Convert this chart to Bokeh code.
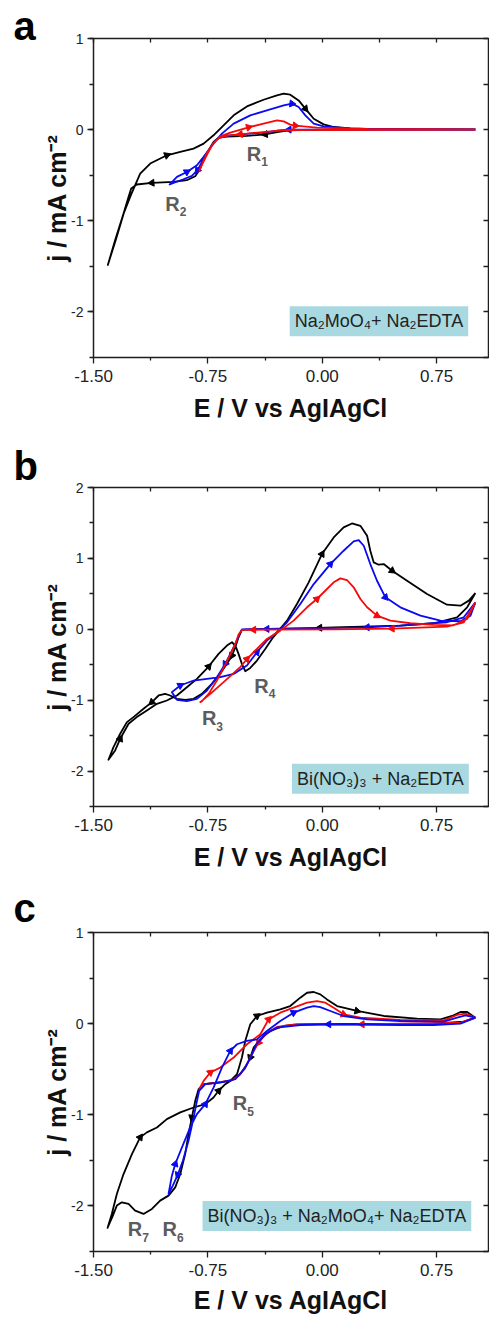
import math
from bokeh.plotting import figure
from bokeh.layouts import column
from bokeh.models import (Range1d, LinearAxis, FixedTicker, SingleIntervalTicker,
                          NumeralTickFormatter, Label, Title)
from bokeh.embed import file_html
from bokeh.resources import INLINE

FONT = "Liberation Sans"

# ---------------- axis ticks ----------------
X_TICKS = [-1.5, -0.75, 0.0, 0.75]
X_MINOR = [-1.125, -0.375, 0.375]
X_LABEL = "E / V vs AgIAgCl"
Y_LABEL = "j / mA cm\u207b\u00b2"

# ---------------- panel a : Na2MoO4 + Na2EDTA ----------------
a_black_E = [1.004, 0.512, 0.075, -0.144, -0.218, -0.297, -0.374, -0.494, -0.625, -0.680,
             -0.713, -0.745, -0.778, -0.804, -0.833, -0.888, -0.975, -1.117, -1.216, -1.253,
             -1.270, -1.303, -1.358, -1.406,
             -1.352, -1.300, -1.255, -1.194, -1.128, -1.019, -0.931, -0.844, -0.778, -0.713,
             -0.647, -0.581, -0.494, -0.385, -0.297, -0.253, -0.210, -0.155, -0.111, -0.056,
             0.009, 0.075, 0.184, 0.294, 0.512, 1.004]
a_black_j = [0.0, 0.0, 0.0, -0.004, -0.007, -0.026, -0.051, -0.069, -0.077, -0.088,
             -0.135, -0.226, -0.336, -0.438, -0.511, -0.555, -0.573, -0.584, -0.602, -0.646,
             -0.737, -0.920, -1.212, -1.485,
             -1.200, -0.910, -0.719, -0.482, -0.372, -0.281, -0.245, -0.208, -0.153, -0.062,
             0.047, 0.157, 0.255, 0.328, 0.376, 0.394, 0.383, 0.321, 0.230, 0.120,
             0.058, 0.029, 0.015, 0.007, 0.004, 0.004]
a_black_arrows = [6, 17, 29, 42]

a_blue_E = [1.004, 0.300, -0.218, -0.297, -0.363, -0.581, -0.669, -0.702, -0.745, -0.789,
            -0.818, -0.855, -0.910, -0.975, -1.001,
            -0.953, -0.888, -0.822, -0.778, -0.713, -0.658, -0.581, -0.472, -0.363, -0.253,
            -0.199, -0.155, -0.111, -0.056, 0.009, 0.184, 1.004]
a_blue_j = [0.0, 0.0, 0.0, -0.011, -0.029, -0.058, -0.080, -0.124, -0.226, -0.354,
            -0.445, -0.507, -0.544, -0.584, -0.602,
            -0.518, -0.464, -0.391, -0.299, -0.153, -0.044, 0.066, 0.157, 0.212, 0.266,
            0.285, 0.248, 0.157, 0.066, 0.036, 0.011, 0.004]
a_blue_arrows = [2, 10, 16, 25]

a_red_E = [1.004, -0.231, -0.406, -0.538, -0.625, -0.680, -0.717, -0.752, -0.785, -0.807,
           -0.778, -0.752, -0.713, -0.669, -0.603, -0.483, -0.385, -0.297, -0.253, -0.210,
           -0.177, -0.035, 0.294, 1.004]
a_red_j = [0.0, -0.004, -0.029, -0.051, -0.066, -0.095, -0.153, -0.263, -0.372, -0.453,
           -0.336, -0.245, -0.146, -0.073, -0.033, 0.026, 0.066, 0.102, 0.091, 0.055,
           0.044, 0.022, 0.007, 0.004]
a_red_arrows = [3, 15, 20]

# ---------------- panel b : Bi(NO3)3 + Na2EDTA ----------------
b_black_E = [1.004, 0.950, 0.884, 0.731, 0.512, 0.075, -0.017, -0.253, -0.472, -0.527,
             -0.549, -0.570, -0.592, -0.625, -0.669, -0.724, -0.789, -0.844, -0.899, -0.953,
             -0.997, -1.030, -1.073, -1.117, -1.172, -1.238, -1.281, -1.325, -1.369, -1.402,
             -1.358, -1.325, -1.270, -1.216, -1.150, -1.084, -1.019, -0.953, -0.888, -0.822,
             -0.745, -0.680, -0.625, -0.592, -0.570, -0.549, -0.527, -0.505, -0.472, -0.428,
             -0.374, -0.330, -0.286, -0.231, -0.166, -0.089, -0.002, 0.075, 0.140, 0.195,
             0.250, 0.294, 0.315, 0.337, 0.370, 0.403, 0.458, 0.556, 0.687, 0.818,
             0.906, 0.961, 1.004]
b_black_j = [0.512, 0.310, 0.169, 0.085, 0.052, 0.028, 0.021, 0.009, 0.0, -0.009,
             -0.113, -0.254, -0.371, -0.488, -0.629, -0.770, -0.911, -0.981, -0.995, -0.981,
             -0.934, -0.911, -0.934, -1.028, -1.122, -1.239, -1.310, -1.474, -1.662, -1.840,
             -1.709, -1.545, -1.333, -1.239, -1.146, -1.052, -1.005, -0.934, -0.817, -0.700,
             -0.526, -0.347, -0.230, -0.183, -0.230, -0.347, -0.488, -0.592, -0.545, -0.441,
             -0.277, -0.136, -0.019, 0.122, 0.357, 0.662, 1.061, 1.296, 1.437, 1.493,
             1.460, 1.319, 1.108, 0.944, 0.911, 0.920, 0.826, 0.685, 0.498, 0.347,
             0.333, 0.404, 0.512]
b_black_arrows = [6, 12, 23, 31, 40, 56, 66]

b_blue_E = [1.004, 0.928, 0.818, 0.512, 0.294, -0.144, -0.363, -0.527, -0.542, -0.570,
            -0.603, -0.636, -0.691, -0.756, -0.822, -0.888, -0.953, -0.986,
            -0.931, -0.844, -0.756, -0.669, -0.581, -0.494, -0.428, -0.363, -0.297, -0.231,
            -0.144, -0.056, 0.053, 0.140, 0.206, 0.239, 0.272, 0.315, 0.359, 0.414,
            0.512, 0.644, 0.775, 0.906, 0.972, 1.004]
b_blue_j = [0.380, 0.169, 0.099, 0.052, 0.028, 0.009, 0.005, 0.0, -0.066, -0.207,
            -0.347, -0.488, -0.676, -0.864, -0.981, -1.014, -0.995, -0.887,
            -0.793, -0.723, -0.700, -0.676, -0.629, -0.512, -0.324, -0.160, -0.042, 0.099,
            0.357, 0.638, 0.920, 1.108, 1.239, 1.258, 1.178, 0.920, 0.685, 0.451,
            0.310, 0.192, 0.122, 0.113, 0.192, 0.380]
b_blue_arrows = [4, 6, 11, 18, 24, 30, 37]

b_red_E = [1.004, 0.928, 0.818, 0.458, 0.075, -0.363, -0.450, -0.527, -0.549, -0.570,
           -0.603, -0.647, -0.691, -0.745, -0.789, -0.800,
           -0.734, -0.647, -0.538, -0.494, -0.450, -0.363, -0.275, -0.188, -0.100, -0.035,
           0.031, 0.075, 0.119, 0.162, 0.206, 0.250, 0.294, 0.359, 0.447, 0.578,
           0.731, 0.862, 0.950, 1.004]
b_red_j = [0.380, 0.099, 0.038, 0.009, 0.0, -0.005, -0.007, -0.009, -0.075, -0.207,
           -0.357, -0.545, -0.723, -0.911, -1.014, -1.028,
           -0.911, -0.746, -0.535, -0.420, -0.324, -0.136, -0.019, 0.122, 0.310, 0.427,
           0.568, 0.662, 0.718, 0.695, 0.592, 0.427, 0.310, 0.192, 0.122, 0.085,
           0.061, 0.056, 0.146, 0.380]
b_red_arrows = [3, 6, 19, 25, 33]

# ---------------- panel c : Bi(NO3)3 + Na2MoO4 + Na2EDTA ----------------
c_black_E = [1.004, 0.928, 0.731, 0.119, -0.166, -0.253, -0.341, -0.406, -0.450, -0.472,
             -0.494, -0.538, -0.581, -0.603, -0.691, -0.778, -0.811, -0.833, -0.855, -0.877,
             -0.899, -0.931, -0.964, -1.008, -1.063, -1.117, -1.172, -1.227, -1.270, -1.314,
             -1.347, -1.373, -1.408,
             -1.380, -1.347, -1.303, -1.248, -1.194, -1.150, -1.084, -1.019, -0.931, -0.844,
             -0.767, -0.713, -0.680, -0.636, -0.603, -0.559, -0.527, -0.505, -0.472, -0.428,
             -0.363, -0.275, -0.210, -0.144, -0.100, -0.056, -0.013, 0.031, 0.097, 0.228,
             0.403, 0.622, 0.775, 0.851, 0.906, 0.950, 1.004]
c_black_j = [0.066, 0.022, 0.0, -0.004, -0.007, -0.026, -0.080, -0.172, -0.263, -0.372,
             -0.445, -0.555, -0.609, -0.628, -0.646, -0.664, -0.719, -0.847, -1.029, -1.212,
             -1.431, -1.650, -1.796, -1.887, -1.942, -2.033, -2.088, -2.051, -1.978, -1.960,
             -1.996, -2.106, -2.241,
             -2.088, -1.869, -1.650, -1.431, -1.248, -1.193, -1.139, -1.047, -0.974, -0.920,
             -0.883, -0.810, -0.737, -0.664, -0.628, -0.555, -0.372, -0.190, -0.007, 0.084,
             0.120, 0.157, 0.193, 0.285, 0.339, 0.347, 0.321, 0.266, 0.193, 0.139,
             0.084, 0.055, 0.047, 0.084, 0.128, 0.128, 0.066]
c_black_arrows = [9, 18, 37, 45, 52, 62]

c_red_E = [1.004, 0.906, 0.512, 0.261, -0.035, -0.188, -0.297, -0.363, -0.417, -0.461,
           -0.505, -0.549, -0.592, -0.691, -0.774, -0.807,
           -0.778, -0.734, -0.669, -0.581, -0.494, -0.406, -0.352, -0.275, -0.188, -0.100,
           -0.035, 0.020, 0.075, 0.140, 0.250, 0.512, 0.797, 0.884, 0.939, 1.004]
c_red_j = [0.066, 0.011, 0.0, -0.007, -0.007, -0.011, -0.036, -0.099, -0.208, -0.336,
           -0.482, -0.573, -0.620, -0.646, -0.664, -0.719,
           -0.628, -0.536, -0.482, -0.372, -0.226, -0.117, 0.047, 0.120, 0.175, 0.230,
           0.248, 0.230, 0.175, 0.102, 0.066, 0.040, 0.036, 0.095, 0.109, 0.066]
c_red_arrows = [3, 8, 17, 22, 29]

c_blue_E = [1.004, 0.906, 0.731, 0.512, 0.042, -0.144, -0.297, -0.374, -0.433, -0.468,
            -0.511, -0.570, -0.669, -0.767, -0.807, -0.826, -0.848, -0.877, -0.914, -0.947,
            -0.980, -1.008,
            -0.986, -0.964, -0.920, -0.866, -0.822, -0.767, -0.713, -0.658, -0.603, -0.559,
            -0.494, -0.428, -0.363, -0.275, -0.188, -0.100, -0.056, -0.013, 0.053, 0.140,
            0.294, 0.512, 0.797, 0.884, 0.939, 1.004]
c_blue_j = [0.066, 0.0, -0.015, -0.015, -0.007, -0.015, -0.044, -0.117, -0.226, -0.365,
            -0.500, -0.609, -0.646, -0.664, -0.737, -0.883, -1.066, -1.285, -1.504, -1.657,
            -1.777, -1.869,
            -1.668, -1.540, -1.358, -1.139, -0.993, -0.883, -0.701, -0.482, -0.299, -0.226,
            -0.190, -0.172, -0.080, 0.029, 0.120, 0.175, 0.193, 0.182, 0.139, 0.084,
            0.047, 0.029, 0.022, 0.066, 0.091, 0.066]
c_blue_arrows = [4, 19, 23, 27, 30, 36]

# ---------------- annotations ----------------
a_peaks = [("R", "1", -0.447, -0.267), ("R", "2", -0.982, -0.815)]
b_peaks = [("R", "3", -0.742, -1.258), ("R", "4", -0.398, -0.797)]
c_peaks = [("R", "5", -0.539, -0.871), ("R", "6", -1.000, -2.256), ("R", "7", -1.228, -2.256)]

a_box = "Na\u2082MoO\u2084+ Na\u2082EDTA"
b_box = "Bi(NO\u2083)\u2083 + Na\u2082EDTA"
c_box = "Bi(NO\u2083)\u2083 + Na\u2082MoO\u2084+ Na\u2082EDTA"

BLACK = "#000000"
BLUE = "#0a0af0"
RED = "#f50a0a"
GRAY = "#5c5c5c"
BOXFILL = "#a9d9e0"
AXC = "#1e1e1e"

X_LO, X_HI = -1.5, 1.09
FIG_W = 489
BORDER_L = 93
FRAME_W = 395
FRAME_H = 319


def add_curve(p, E, j, color, arrows, sx, sy):
    p.line(E, j, line_color=color, line_width=1.8, line_join="round")
    ax, ay, ang = [], [], []
    for i in arrows:
        dx = (E[i + 1] - E[i - 1]) * sx
        dy = (j[i + 1] - j[i - 1]) * sy
        th = math.atan2(dy, dx)
        ax.append(E[i])
        ay.append(j[i])
        ang.append(th - math.pi / 2)
    p.scatter(ax, ay, marker="triangle", size=7, angle=ang,
              fill_color=color, line_color=color)


def make_panel(letter, letter_standoff, y_lo, y_hi, curves, peaks, box_text, box_x, box_y,
               fig_h, top, xlab_standoff):
    bottom = fig_h - top - FRAME_H
    p = figure(width=FIG_W, height=fig_h,
               x_range=Range1d(X_LO, X_HI), y_range=Range1d(y_lo, y_hi),
               output_backend="svg", toolbar_location=None,
               x_axis_type=None, y_axis_type=None,
               min_border_left=BORDER_L, min_border_right=FIG_W - BORDER_L - FRAME_W,
               min_border_top=top, min_border_bottom=bottom)
    p.xgrid.visible = False
    p.ygrid.visible = False
    p.outline_line_color = AXC
    p.outline_line_width = 1.5
    p.background_fill_color = "white"
    p.border_fill_color = "white"

    # panel letter as the figure title, pushed left of the frame
    p.title = Title(text=letter, align="left", offset=-80, standoff=letter_standoff,
                    text_font=FONT, text_font_style="bold", text_font_size="40px",
                    text_color="#000000", vertical_align="bottom")

    xb = LinearAxis(ticker=FixedTicker(ticks=X_TICKS, minor_ticks=X_MINOR),
                    formatter=NumeralTickFormatter(format="0.00"),
                    axis_label=X_LABEL,
                    axis_label_text_font=FONT, axis_label_text_font_style="bold",
                    axis_label_text_font_size="25px", axis_label_text_color="#111111",
                    axis_label_standoff=xlab_standoff,
                    major_label_text_font=FONT, major_label_text_font_size="17px",
                    major_label_text_color="#222222", major_label_standoff=6,
                    major_tick_in=0, major_tick_out=6, minor_tick_in=0, minor_tick_out=3,
                    major_tick_line_color=AXC, minor_tick_line_color=AXC,
                    major_tick_line_width=1.3, minor_tick_line_width=1.3,
                    axis_line_color=None)
    p.add_layout(xb, "below")

    yl = LinearAxis(ticker=SingleIntervalTicker(interval=1, num_minor_ticks=2),
                    formatter=NumeralTickFormatter(format="0"),
                    axis_label=Y_LABEL,
                    axis_label_text_font=FONT, axis_label_text_font_style="bold",
                    axis_label_text_font_size="25px", axis_label_text_color="#111111",
                    axis_label_standoff=-3,
                    major_label_text_font=FONT, major_label_text_font_size="14px",
                    major_label_text_color="#222222", major_label_standoff=4,
                    major_tick_in=0, major_tick_out=6, minor_tick_in=0, minor_tick_out=4,
                    major_tick_line_color=AXC, minor_tick_line_color=AXC,
                    major_tick_line_width=1.3, minor_tick_line_width=1.3,
                    axis_line_color=None)
    p.add_layout(yl, "left")

    xt = LinearAxis(ticker=FixedTicker(ticks=X_TICKS + X_MINOR),
                    major_label_text_font_size="0px", major_label_text_color=None,
                    major_label_standoff=0,
                    major_tick_in=4, major_tick_out=0, minor_tick_in=0, minor_tick_out=0,
                    major_tick_line_color=AXC, major_tick_line_width=1.3,
                    axis_line_color=None)
    p.add_layout(xt, "above")

    yr = LinearAxis(ticker=SingleIntervalTicker(interval=0.5, num_minor_ticks=0),
                    major_label_text_font_size="0px", major_label_text_color=None,
                    major_label_standoff=0,
                    major_tick_in=5, major_tick_out=0, minor_tick_in=0, minor_tick_out=0,
                    major_tick_line_color=AXC, major_tick_line_width=1.3,
                    axis_line_color=None)
    p.add_layout(yr, "right")

    sx = FRAME_W / (X_HI - X_LO)
    sy = FRAME_H / (y_hi - y_lo)
    for E, j, color, arrows in curves:
        add_curve(p, E, j, color, arrows, sx, sy)

    for main, sub, ex, ey in peaks:
        p.add_layout(Label(x=ex, y=ey, text=main, text_font=FONT, text_font_style="bold",
                           text_font_size="20px", text_color=GRAY,
                           text_align="center", text_baseline="middle"))
        p.add_layout(Label(x=ex, y=ey, x_offset=10.5, y_offset=-8, text=sub, text_font=FONT,
                           text_font_style="bold", text_font_size="12px", text_color=GRAY,
                           text_align="center", text_baseline="middle"))

    p.add_layout(Label(x=box_x, y=box_y, text=box_text, text_font=FONT,
                       text_font_size="18px", text_color="#222222",
                       text_align="right", text_baseline="middle",
                       background_fill_color=BOXFILL, background_fill_alpha=1.0,
                       padding=5))
    return p


pa = make_panel("a", -18, -2.5, 1.0,
                [(a_black_E, a_black_j, BLACK, a_black_arrows),
                 (a_blue_E, a_blue_j, BLUE, a_blue_arrows),
                 (a_red_E, a_red_j, RED, a_red_arrows)],
                a_peaks, a_box, 0.957, -2.103, 438, 38, 9)

pb = make_panel("b", 0, -2.5, 2.0,
                [(b_black_E, b_black_j, BLACK, b_black_arrows),
                 (b_blue_E, b_blue_j, BLUE, b_blue_arrows),
                 (b_red_E, b_red_j, RED, b_red_arrows)],
                b_peaks, b_box, 0.961, -2.107, 438, 49, 9)

pc = make_panel("c", 6, -2.5, 1.0,
                [(c_black_E, c_black_j, BLACK, c_black_arrows),
                 (c_red_E, c_red_j, RED, c_red_arrows),
                 (c_blue_E, c_blue_j, BLUE, c_blue_arrows)],
                c_peaks, c_box, 0.977, -2.11, 441, 56, 7)

layout = column(pa, pb, pc, spacing=0)
open("out.html", "w").write(file_html(layout, INLINE))
